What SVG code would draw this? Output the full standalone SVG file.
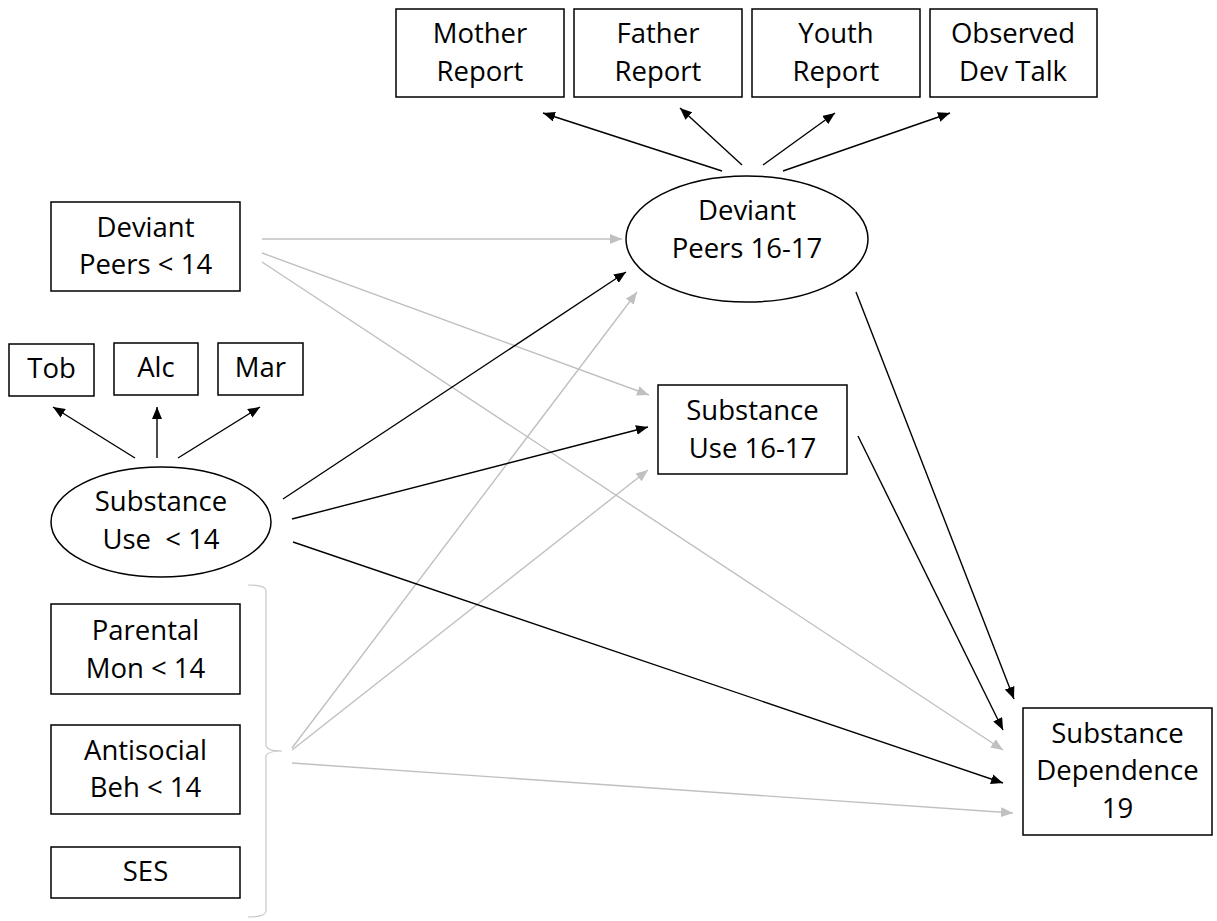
<svg xmlns="http://www.w3.org/2000/svg" width="1217" height="921" viewBox="0 0 1217 921">
<style>
  .box { fill: #ffffff; stroke: #000000; stroke-width: 1.5; }
  .lbl { font-family: "Open Sans", "Liberation Sans", sans-serif; font-size: 27.5px; fill: #000000; text-anchor: middle; white-space: pre; }
  .blk { stroke: #000000; stroke-width: 1.4; fill: none; marker-end: url(#ahB); }
  .gry { stroke: #c0c0c0; stroke-width: 1.4; fill: none; marker-end: url(#ahG); }
</style>
<defs>
  <marker id="ahB" markerUnits="userSpaceOnUse" markerWidth="12" markerHeight="10" refX="12" refY="5" orient="auto">
    <path d="M0,0 L12,5 L0,10 z" fill="#000000"/>
  </marker>
  <marker id="ahG" markerUnits="userSpaceOnUse" markerWidth="12" markerHeight="10" refX="12" refY="5" orient="auto">
    <path d="M0,0 L12,5 L0,10 z" fill="#c0c0c0"/>
  </marker>
</defs>
<rect width="1217" height="921" fill="#ffffff"/>

<g id="connectors">
  <line class="blk" x1="722" y1="171" x2="543" y2="113"/>
  <line class="blk" x1="742" y1="165" x2="680" y2="108"/>
  <line class="blk" x1="763" y1="165" x2="835" y2="113"/>
  <line class="blk" x1="783" y1="171" x2="950" y2="113"/>
  <line class="blk" x1="135" y1="458" x2="53" y2="407"/>
  <line class="blk" x1="157" y1="458" x2="157" y2="407"/>
  <line class="blk" x1="178" y1="458" x2="260" y2="407"/>
  <line class="gry" x1="262" y1="239" x2="622" y2="239"/>
  <line class="gry" x1="262" y1="253" x2="649" y2="395"/>
  <line class="gry" x1="262" y1="262" x2="1003" y2="750"/>
  <line class="gry" x1="292" y1="748" x2="637" y2="292"/>
  <line class="gry" x1="292" y1="750" x2="648" y2="470"/>
  <line class="gry" x1="292" y1="763" x2="1013" y2="813"/>
  <line class="blk" x1="283" y1="499" x2="626" y2="272"/>
  <line class="blk" x1="292" y1="519" x2="648" y2="427"/>
  <line class="blk" x1="293" y1="542" x2="1003" y2="783"/>
  <line class="blk" x1="856" y1="292" x2="1014" y2="699"/>
  <line class="blk" x1="858" y1="436" x2="1003" y2="730"/>
  <path d="M248,585 Q266,585 266,591 L266,745 Q266,751 282,751 Q266,751 266,757 L266,911 Q266,917 248,917" fill="none" stroke="#c8c8c8" stroke-width="1.2"/>
</g>

<g id="mother-report">
  <rect class="box" x="396" y="9" width="168" height="88"/>
  <text class="lbl" x="480" y="43">Mother</text>
  <text class="lbl" x="480" y="81">Report</text>
</g>
<g id="father-report">
  <rect class="box" x="574" y="9" width="168" height="88"/>
  <text class="lbl" x="658" y="43">Father</text>
  <text class="lbl" x="658" y="81">Report</text>
</g>
<g id="youth-report">
  <rect class="box" x="752" y="9" width="168" height="88"/>
  <text class="lbl" x="836" y="43">Youth</text>
  <text class="lbl" x="836" y="81">Report</text>
</g>
<g id="observed-dev-talk">
  <rect class="box" x="930" y="9" width="167" height="88"/>
  <text class="lbl" x="1013" y="43">Observed</text>
  <text class="lbl" x="1013" y="81">Dev Talk</text>
</g>

<g id="deviant-peers-16-17">
  <ellipse class="box" cx="747" cy="239" rx="121" ry="63"/>
  <text class="lbl" x="747" y="220">Deviant</text>
  <text class="lbl" x="747" y="258">Peers 16-17</text>
</g>

<g id="deviant-peers-lt14">
  <rect class="box" x="51" y="202" width="189" height="89"/>
  <text class="lbl" x="145.5" y="237">Deviant</text>
  <text class="lbl" x="145.5" y="274">Peers &lt; 14</text>
</g>

<g id="tob">
  <rect class="box" x="9" y="344" width="85" height="52"/>
  <text class="lbl" x="51.5" y="378">Tob</text>
</g>
<g id="alc">
  <rect class="box" x="114" y="343" width="84" height="52"/>
  <text class="lbl" x="156" y="377">Alc</text>
</g>
<g id="mar">
  <rect class="box" x="218" y="343" width="85" height="52"/>
  <text class="lbl" x="260.5" y="377">Mar</text>
</g>

<g id="substance-use-lt14">
  <ellipse class="box" cx="161" cy="522" rx="110" ry="55"/>
  <text class="lbl" x="161" y="511">Substance</text>
  <text class="lbl" x="161" y="549">Use  &lt; 14</text>
</g>

<g id="substance-use-16-17">
  <rect class="box" x="658" y="385" width="189" height="89"/>
  <text class="lbl" x="752.5" y="420">Substance</text>
  <text class="lbl" x="752.5" y="458">Use 16-17</text>
</g>

<g id="parental-mon">
  <rect class="box" x="51" y="604" width="189" height="90"/>
  <text class="lbl" x="145.5" y="640">Parental</text>
  <text class="lbl" x="145.5" y="678">Mon &lt; 14</text>
</g>
<g id="antisocial-beh">
  <rect class="box" x="51" y="725" width="189" height="89"/>
  <text class="lbl" x="145.5" y="760">Antisocial</text>
  <text class="lbl" x="145.5" y="797">Beh &lt; 14</text>
</g>
<g id="ses">
  <rect class="box" x="51" y="847" width="189" height="51"/>
  <text class="lbl" x="145.5" y="881">SES</text>
</g>

<g id="substance-dependence-19">
  <rect class="box" x="1023" y="708" width="189" height="127"/>
  <text class="lbl" x="1117.5" y="743">Substance</text>
  <text class="lbl" x="1117.5" y="780">Dependence</text>
  <text class="lbl" x="1117.5" y="818">19</text>
</g>
</svg>
